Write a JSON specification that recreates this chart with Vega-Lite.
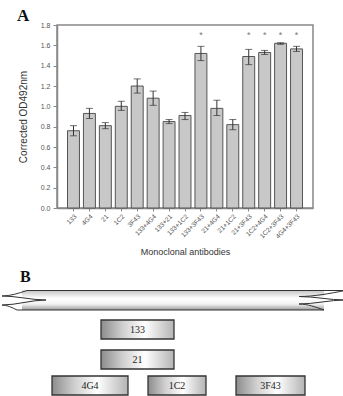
{
  "$schema": "https://vega.github.io/schema/vega-lite/v6.json",
  "padding": {"left": 0, "top": 6, "right": 0, "bottom": 0},
  "background": "white",
  "spacing": 10,
  "config": {
    "font": "Liberation Sans",
    "axisY": {"grid": false, "labelOverlap": false, "labelFontSize": 7, "labelColor": "#555", "tickColor": "#888", "tickSize": 4, "domainColor": "#888", "domainWidth": 1.5, "titleFontSize": 10, "titleFontWeight": "normal", "titleColor": "#333", "titlePadding": 12, "labelPadding": 3}
  },
  "datasets": {
    "od": [
      {"ab": "133", "od": 0.76, "lo": 0.71, "hi": 0.81, "sig": ""},
      {"ab": "4G4", "od": 0.93, "lo": 0.88, "hi": 0.98, "sig": ""},
      {"ab": "21", "od": 0.81, "lo": 0.78, "hi": 0.84, "sig": ""},
      {"ab": "1C2", "od": 1.00, "lo": 0.96, "hi": 1.05, "sig": ""},
      {"ab": "3F43", "od": 1.20, "lo": 1.13, "hi": 1.27, "sig": ""},
      {"ab": "133+4G4", "od": 1.08, "lo": 1.01, "hi": 1.15, "sig": ""},
      {"ab": "133+21", "od": 0.85, "lo": 0.83, "hi": 0.87, "sig": ""},
      {"ab": "133+1C2", "od": 0.91, "lo": 0.87, "hi": 0.94, "sig": ""},
      {"ab": "133+3F43", "od": 1.52, "lo": 1.45, "hi": 1.59, "sig": "*"},
      {"ab": "21+4G4", "od": 0.98, "lo": 0.91, "hi": 1.06, "sig": ""},
      {"ab": "21+1C2", "od": 0.82, "lo": 0.77, "hi": 0.87, "sig": ""},
      {"ab": "21+3F43", "od": 1.49, "lo": 1.41, "hi": 1.56, "sig": "*"},
      {"ab": "1C2+4G4", "od": 1.53, "lo": 1.51, "hi": 1.55, "sig": "*"},
      {"ab": "1C2+3F43", "od": 1.62, "lo": 1.61, "hi": 1.625, "sig": "*"},
      {"ab": "4G4+3F43", "od": 1.565, "lo": 1.54, "hi": 1.59, "sig": "*"}
    ],
    "tube": [{"x0": 20, "x1": 322, "y0": 0.5, "y1": 20}],
    "boxes": [
      {"name": "133", "x0": 99, "x1": 172, "y0": 30, "y1": 49},
      {"name": "21", "x0": 99, "x1": 172, "y0": 60, "y1": 79},
      {"name": "4G4", "x0": 50, "x1": 126, "y0": 86, "y1": 105},
      {"name": "1C2", "x0": 146, "x1": 204, "y0": 86, "y1": 105},
      {"name": "3F43", "x0": 234, "x1": 303, "y0": 86, "y1": 105}
    ],
    "outline": [
      {"seg": "top", "i": 0, "x": 25, "y": 0.5},
      {"seg": "top", "i": 1, "x": 343, "y": 0.5},
      {"seg": "bottom", "i": 0, "x": 15, "y": 20},
      {"seg": "bottom", "i": 1, "x": 322, "y": 20},
      {"seg": "left", "i": 0, "x": 25, "y": 0.5},
      {"seg": "left", "i": 1, "x": 0, "y": 6},
      {"seg": "left", "i": 2, "x": 44, "y": 10},
      {"seg": "left", "i": 3, "x": 0, "y": 15},
      {"seg": "left", "i": 4, "x": 15, "y": 20},
      {"seg": "right", "i": 0, "x": 343, "y": 0.5},
      {"seg": "right", "i": 1, "x": 297, "y": 6.5},
      {"seg": "right", "i": 2, "x": 343, "y": 10},
      {"seg": "right", "i": 3, "x": 297, "y": 14},
      {"seg": "right", "i": 4, "x": 322, "y": 20}
    ]
  },
  "vconcat": [
    {
      "width": 256,
      "height": 183,
      "title": {"text": "A", "anchor": "start", "frame": "group", "dx": -40, "dy": 8, "font": "Liberation Serif", "fontSize": 17, "fontWeight": "bold", "color": "#111"},
      "view": {"stroke": "#888", "strokeWidth": 1.5},
      "data": {"name": "od"},
      "encoding": {
        "x": {
          "field": "ab", "type": "nominal", "sort": null,
          "scale": {"paddingInner": 0.25, "paddingOuter": 0.66},
          "axis": {"title": "Monoclonal antibodies", "labelAngle": -45, "labelFontSize": 6.5, "labelColor": "#555", "tickColor": "#888", "tickSize": 3, "domainColor": "#888", "domainWidth": 1.5, "titleFontSize": 9, "titleFontWeight": "normal", "titleColor": "#333", "titlePadding": 8, "labelPadding": 2, "labelOverlap": false}
        }
      },
      "layer": [
        {
          "mark": {"type": "bar", "fill": "#c8c8c8", "stroke": "#555", "strokeWidth": 1},
          "encoding": {
            "y": {
              "field": "od", "type": "quantitative",
              "scale": {"domain": [0, 1.8], "nice": false},
              "axis": {"title": "Corrected OD492nm", "values": [0, 0.2, 0.4, 0.6, 0.8, 1.0, 1.2, 1.4, 1.6, 1.8], "format": ".1f"}
            }
          }
        },
        {
          "mark": {"type": "rule", "color": "#333", "strokeWidth": 1},
          "encoding": {"y": {"field": "lo", "type": "quantitative", "axis": {"title": "Corrected OD492nm", "values": [0, 0.2, 0.4, 0.6, 0.8, 1.0, 1.2, 1.4, 1.6, 1.8], "format": ".1f"}}, "y2": {"field": "hi"}}
        },
        {
          "mark": {"type": "tick", "color": "#333", "size": 7, "thickness": 1},
          "encoding": {"y": {"field": "lo", "type": "quantitative", "axis": {"title": "Corrected OD492nm", "values": [0, 0.2, 0.4, 0.6, 0.8, 1.0, 1.2, 1.4, 1.6, 1.8], "format": ".1f"}}}
        },
        {
          "mark": {"type": "tick", "color": "#333", "size": 7, "thickness": 1},
          "encoding": {"y": {"field": "hi", "type": "quantitative", "axis": {"title": "Corrected OD492nm", "values": [0, 0.2, 0.4, 0.6, 0.8, 1.0, 1.2, 1.4, 1.6, 1.8], "format": ".1f"}}}
        },
        {
          "transform": [{"filter": "datum.sig == '*'"}],
          "mark": {"type": "text", "fontSize": 9, "color": "#777", "baseline": "middle", "dy": 2},
          "encoding": {"y": {"datum": 1.72, "axis": {"title": "Corrected OD492nm", "values": [0, 0.2, 0.4, 0.6, 0.8, 1.0, 1.2, 1.4, 1.6, 1.8], "format": ".1f"}}, "text": {"field": "sig"}}
        }
      ]
    },
    {
      "width": 256,
      "height": 106,
      "view": {"stroke": null},
      "title": {"text": "B", "anchor": "start", "frame": "group", "dx": -37, "font": "Liberation Serif", "fontSize": 16, "fontWeight": "bold", "color": "#111", "offset": 4},
      "layer": [
        {
          "data": {"name": "tube"},
          "mark": {"type": "rect", "fill": {"gradient": "linear", "x1": 0, "y1": 0, "x2": 0, "y2": 1, "stops": [{"offset": 0, "color": "#c4c4c4"}, {"offset": 0.4, "color": "#ffffff"}, {"offset": 0.7, "color": "#f2f2f2"}, {"offset": 1, "color": "#9a9a9a"}]}},
          "encoding": {
            "x": {"field": "x0", "type": "quantitative", "scale": {"domain": [55, 311], "nice": false, "zero": false}, "axis": null},
            "x2": {"field": "x1"},
            "y": {"field": "y0", "type": "quantitative", "scale": {"domain": [0, 106], "nice": false, "zero": false, "reverse": true}, "axis": null},
            "y2": {"field": "y1"}
          }
        },
        {
          "data": {"name": "outline"},
          "mark": {"type": "line", "color": "#333", "strokeWidth": 1, "interpolate": "monotone"},
          "encoding": {
            "x": {"field": "x", "type": "quantitative"},
            "y": {"field": "y", "type": "quantitative"},
            "detail": {"field": "seg"},
            "order": {"field": "i"}
          }
        },
        {
          "data": {"name": "boxes"},
          "mark": {"type": "rect", "stroke": "#333", "strokeWidth": 1.3, "fill": {"gradient": "linear", "x1": 0, "y1": 0, "x2": 1, "y2": 0, "stops": [{"offset": 0, "color": "#8c8c8c"}, {"offset": 0.3, "color": "#d0d0d0"}, {"offset": 0.6, "color": "#ffffff"}, {"offset": 1, "color": "#b4b4b4"}]}},
          "encoding": {
            "x": {"field": "x0", "type": "quantitative"},
            "x2": {"field": "x1"},
            "y": {"field": "y0", "type": "quantitative"},
            "y2": {"field": "y1"}
          }
        },
        {
          "data": {"name": "boxes"},
          "transform": [
            {"fold": ["x0", "x1"], "as": ["kx", "xv"]},
            {"aggregate": [{"op": "mean", "field": "xv", "as": "xm"}], "groupby": ["name", "y0", "y1"]},
            {"fold": ["y0", "y1"], "as": ["ky", "yv"]},
            {"aggregate": [{"op": "mean", "field": "yv", "as": "ym"}], "groupby": ["name", "xm"]}
          ],
          "mark": {"type": "text", "font": "Liberation Serif", "fontSize": 10, "color": "#222", "baseline": "middle", "align": "center", "dy": 0.5},
          "encoding": {
            "x": {"field": "xm", "type": "quantitative"},
            "y": {"field": "ym", "type": "quantitative"},
            "text": {"field": "name"}
          }
        }
      ]
    }
  ]
}
